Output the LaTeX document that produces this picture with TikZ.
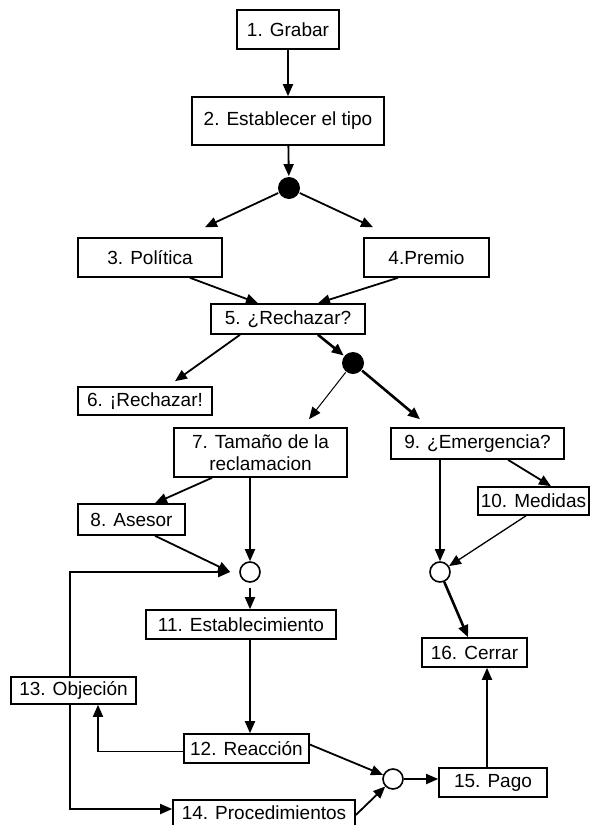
\documentclass[tikz,border=0pt]{standalone}
\usepackage{fontspec}
\setmainfont{Liberation Sans}
\usetikzlibrary{arrows.meta}

\begin{document}
\begin{tikzpicture}[x=1pt,y=-1pt,->,>={Triangle[length=12pt,width=10pt]},line width=1.8pt,
    box/.style={draw,-,line width=1.6pt,minimum height=30pt,inner sep=2pt,font=\fontsize{19}{21.5}\selectfont},
    dot/.style={circle,fill,inner sep=0pt,minimum size=22pt},
    junc/.style={circle,draw,fill=white,line width=1.6pt,inner sep=0pt,minimum size=20pt},
    fine/.style={line width=1pt},
    heavy/.style={line width=2.6pt}]
                \useasboundingbox (0,0) rectangle (594,825);
                \node[box, minimum width=102pt, minimum height=39pt] (1) at (288,29.5) {1. Grabar};
                \node[box, minimum width=192pt, minimum height=48pt] (2) at (288,121) {2. Establecer el tipo};
                \node[dot] (d1) at (289,188) {};
                \node[box, minimum width=144pt, minimum height=39pt] (3) at (150,257.5) {3. Política};
                \node[box, minimum width=125pt, minimum height=39pt] (4) at (426.5,257.5) {4.Premio};
                \node[box, minimum width=154pt] (5) at (288,319) {5. ¿Rechazar?};
                \node[dot] (d2) at (353,363) {};
                \node[box, minimum width=134pt, minimum height=28pt] (6) at (145,401) {6. ¡Rechazar!};
                \node[box, minimum width=173pt, minimum height=49pt, align=center] (7) at (260.5,452.5) {7. Tamaño de la\\reclamacion};
                \node[box, minimum width=173pt, minimum height=31pt] (9) at (477.5,443.5) {9. ¿Emergencia?};
                \node[box, minimum width=107pt, minimum height=31pt] (8) at (131.5,519.5) {8. Asesor};
                \node[box, minimum width=111pt, minimum height=28pt] (10) at (533.5,501) {10. Medidas};
                \node[junc] (j1) at (250,572) {};
                \node[junc] (j2) at (440,572) {};
                \node[box, minimum width=190pt, minimum height=29pt] (11) at (241,624.5) {11. Establecimiento};
                \node[box, minimum width=105pt, minimum height=29pt] (16) at (474.5,652.5) {16. Cerrar};
                \node[box, minimum width=125pt, minimum height=27pt] (13) at (73.5,690.5) {13. Objeción};
                \node[box, minimum width=125pt, minimum height=29pt] (12) at (246.5,748.5) {12. Reacción};
                \node[junc] (j3) at (393,779) {};
                \node[box, minimum width=108pt, minimum height=29pt] (15) at (493,782.5) {15. Pago};
                \node[box, minimum width=182pt, minimum height=26pt] (14) at (264,813) {14. Procedimientos};
                \path
                (1) edge (2)
                (2) edge (d1)
                (d1) edge ([xshift=55pt,yshift=10pt]3.north)
                     edge ([xshift=-53.5pt,yshift=10pt]4.north)
                ([xshift=40pt]3.south) edge ([xshift=-30pt]5.north)
                ([xshift=-28.5pt]4.south) edge ([xshift=30pt]5.north)
                ([xshift=-48pt]5.south) edge ([xshift=30pt,yshift=5pt]6.north)
                ([xshift=30pt]5.south) edge [heavy] (d2)
                (d2) edge [fine] ([xshift=48.5pt,yshift=8pt]7.north)
                     edge [heavy] ([xshift=-57.5pt,yshift=8pt]9.north)
                ([xshift=-48.5pt]7.south) edge ([xshift=23.5pt]8.north)
                (7.south -| j1) edge (j1)
                ([xshift=23.5pt]8.south) edge ([xshift=-9pt]j1.west)
                (9.south -| j2) edge (j2)
                ([xshift=30.5pt]9.south) edge ([xshift=17.5pt]10.north)
                ([xshift=-7.5pt]10.south) edge [line width=1.3pt] (j2)
                ([yshift=-5pt]j1.south) edge (j1 |- 11.north)
                (j2) edge [heavy] ([xshift=-6.5pt]16.north)
                (j1 |- 11.south) edge (j1 |- 12.north)
                ([yshift=4pt]12.east) edge (j3)
                ([yshift=-2pt]14.east) edge (j3)
                (j3) edge (15.west |- j3)
                ([xshift=-6pt]15.north) edge ([xshift=-6pt]15.north |- 16.south)
                ;
                \draw ([yshift=-3pt]12.west) -| ([xshift=24.5pt]13.south);
                \draw ([xshift=-3.5pt]13.north) |- ([xshift=-9pt]j1.west);
                \draw ([xshift=-3.5pt]13.south) |- ([yshift=4pt]14.west);
            \end{tikzpicture}
\end{document}
